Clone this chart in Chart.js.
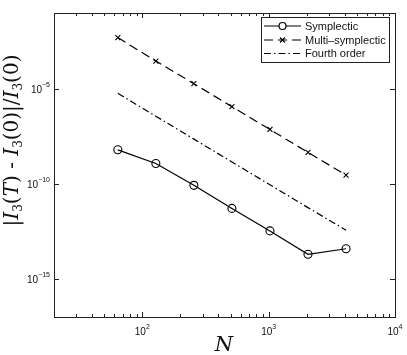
<!DOCTYPE html>
<html>
<head>
<meta charset="utf-8">
<script src="https://cdn.jsdelivr.net/npm/chart.js@4/dist/chart.umd.min.js"></script>
<style>
html,body{margin:0;padding:0;background:#fff;}
#wrap{width:407px;height:355px;position:relative;}
</style>
</head>
<body>
<div id="wrap"><canvas id="c" width="407" height="355"></canvas></div>
<script>
const N = [64, 128, 256, 512, 1024, 2048, 4096];
const symplectic = [6.3e-9, 1.2e-9, 8.5e-11, 5.2e-12, 3.4e-13, 2.0e-14, 3.9e-14];
const multiSymplectic = [5.1e-3, 2.95e-4, 1.9e-5, 1.17e-6, 7.4e-8, 4.6e-9, 2.95e-10];
const fourthOrder = [5.9e-6, 3.7e-7, 2.3e-8, 1.45e-9, 9.1e-11, 5.7e-12, 3.7e-13];
const seriesLabels = ['Symplectic', 'Multi\u2013symplectic', 'Fourth order'];
const xTickExps = [2, 3, 4];
const yTickExps = [-5, -10, -15];

const pts = arr => N.map((n, i) => ({x: n, y: arr[i]}));

const decor = {
  id: 'decor',
  afterDraw(chart) {
    const ctx = chart.ctx, a = chart.chartArea;
    const xs = chart.scales.x, ys = chart.scales.y;
    ctx.save();
    ctx.strokeStyle = '#222';
    ctx.lineWidth = 1;
    ctx.strokeRect(Math.round(a.left) + 0.5, Math.round(a.top) + 0.5,
                   Math.round(a.right - a.left), Math.round(a.bottom - a.top));
    ctx.beginPath();
    for (let d = 1; d <= 3; d++) {
      for (let k = 1; k <= 9; k++) {
        const v = k * Math.pow(10, d);
        if (v < xs.min || v > xs.max) continue;
        const px = Math.round(xs.getPixelForValue(v)) + 0.5;
        const len = k === 1 ? 5 : 3;
        ctx.moveTo(px, a.bottom); ctx.lineTo(px, a.bottom - len);
        ctx.moveTo(px, a.top); ctx.lineTo(px, a.top + len);
      }
    }
    yTickExps.forEach(e => {
      const py = Math.round(ys.getPixelForValue(Math.pow(10, e))) + 0.5;
      ctx.moveTo(a.left, py); ctx.lineTo(a.left + 5, py);
      ctx.moveTo(a.right, py); ctx.lineTo(a.right - 5, py);
    });
    ctx.stroke();

    ctx.fillStyle = '#111';
    const big = '10px "Liberation Sans", Arial, sans-serif';
    const small = '7px "Liberation Sans", Arial, sans-serif';
    xTickExps.forEach(e => {
      const px = xs.getPixelForValue(Math.pow(10, e));
      ctx.font = big; const w1 = ctx.measureText('10').width;
      ctx.font = small; const es = String(e); const w2 = ctx.measureText(es).width;
      const x0 = px - (w1 + w2) / 2;
      ctx.textBaseline = 'alphabetic'; ctx.textAlign = 'left';
      ctx.font = big; ctx.fillText('10', x0, a.bottom + 18);
      ctx.font = small; ctx.fillText(es, x0 + w1, a.bottom + 12);
    });
    yTickExps.forEach(e => {
      const py = ys.getPixelForValue(Math.pow(10, e));
      const es = '\u2212' + String(-e);
      ctx.font = small; const w2 = ctx.measureText(es).width;
      ctx.font = big; const w1 = ctx.measureText('10').width;
      const xr = a.left - 4;
      ctx.textAlign = 'left'; ctx.textBaseline = 'alphabetic';
      ctx.font = big; ctx.fillText('10', xr - w1 - w2, py + 4);
      ctx.font = small; ctx.fillText(es, xr - w2, py - 2);
    });

    const serif = '"DejaVu Serif", "Liberation Serif", serif';
    ctx.font = 'italic 21px ' + serif;
    ctx.textAlign = 'center'; ctx.textBaseline = 'alphabetic';
    ctx.fillText('N', 224, 351);

    const segs = [
      ['|', '', 20, 0], ['I', 'italic ', 20, 0], ['3', '', 12, 4], ['(', '', 20, 0], ['T', 'italic ', 20, 0], [')', '', 20, 0],
      [' - ', '', 20, 0], ['I', 'italic ', 20, 0], ['3', '', 12, 4], ['(0)|/', '', 20, 0],
      ['I', 'italic ', 20, 0], ['3', '', 12, 4], ['(0)', '', 20, 0]
    ];
    let total = 0;
    segs.forEach(s => { ctx.font = s[1] + s[2] + 'px ' + serif; total += ctx.measureText(s[0]).width; });
    ctx.translate(18, 140.5);
    ctx.rotate(-Math.PI / 2);
    let cx = -total / 2;
    ctx.textAlign = 'left';
    segs.forEach(s => {
      ctx.font = s[1] + s[2] + 'px ' + serif;
      ctx.fillText(s[0], cx, s[3]);
      cx += ctx.measureText(s[0]).width;
    });
    ctx.restore();

    ctx.save();
    const lx = 261, ly = 17, lw = 128, lh = 45;
    ctx.fillStyle = '#fff';
    ctx.fillRect(lx, ly, lw, lh);
    ctx.strokeStyle = '#222'; ctx.lineWidth = 1;
    ctx.strokeRect(lx + 0.5, ly + 0.5, lw, lh);
    const rows = [26, 40, 53.5];
    chart.data.datasets.forEach((ds, i) => {
      const y = rows[i];
      ctx.strokeStyle = '#000'; ctx.lineWidth = 1.2;
      ctx.setLineDash(ds.borderDash || []);
      ctx.beginPath(); ctx.moveTo(264, y); ctx.lineTo(301, y); ctx.stroke();
      ctx.setLineDash([]);
      if (ds.pointStyle === 'circle' && ds.pointRadius > 0) {
        ctx.fillStyle = '#fff';
        ctx.beginPath(); ctx.arc(282.5, y, 3.5, 0, Math.PI * 2); ctx.fill(); ctx.stroke();
      } else if (ds.pointStyle === 'crossRot' && ds.pointRadius > 0) {
        const r = 2.5;
        ctx.beginPath();
        ctx.moveTo(282.5 - r, y - r); ctx.lineTo(282.5 + r, y + r);
        ctx.moveTo(282.5 - r, y + r); ctx.lineTo(282.5 + r, y - r);
        ctx.stroke();
      }
      ctx.fillStyle = '#111';
      ctx.font = '11px "Liberation Sans", Arial, sans-serif';
      ctx.textAlign = 'left'; ctx.textBaseline = 'middle';
      ctx.fillText(ds.label, 305, y + 0.5);
    });
    ctx.restore();
  }
};

new Chart(document.getElementById('c'), {
  type: 'line',
  data: {
    datasets: [
      {label: seriesLabels[0], data: pts(symplectic), borderColor: '#000', borderWidth: 1.2,
       pointStyle: 'circle', pointRadius: 4, pointBorderWidth: 1.1, pointBackgroundColor: 'rgba(255,255,255,0)', pointBorderColor: '#000'},
      {label: seriesLabels[1], data: pts(multiSymplectic), borderColor: '#000', borderWidth: 1.2, borderDash: [9, 5],
       pointStyle: 'crossRot', pointRadius: 3.5, pointBorderWidth: 1.1, pointBorderColor: '#000'},
      {label: seriesLabels[2], data: pts(fourthOrder), borderColor: '#000', borderWidth: 1.2, borderDash: [7, 3, 1.5, 3],
       pointStyle: 'circle', pointRadius: 0}
    ]
  },
  options: {
    responsive: false,
    animation: false,
    layout: {padding: {left: 54, right: 12, top: 13, bottom: 38}},
    plugins: {legend: {display: false}, tooltip: {enabled: false}},
    scales: {
      x: {type: 'logarithmic', min: 20, max: 10000, display: false},
      y: {type: 'logarithmic', min: 1e-17, max: 1e-1, display: false}
    }
  },
  plugins: [decor]
});
</script>
</body>
</html>
